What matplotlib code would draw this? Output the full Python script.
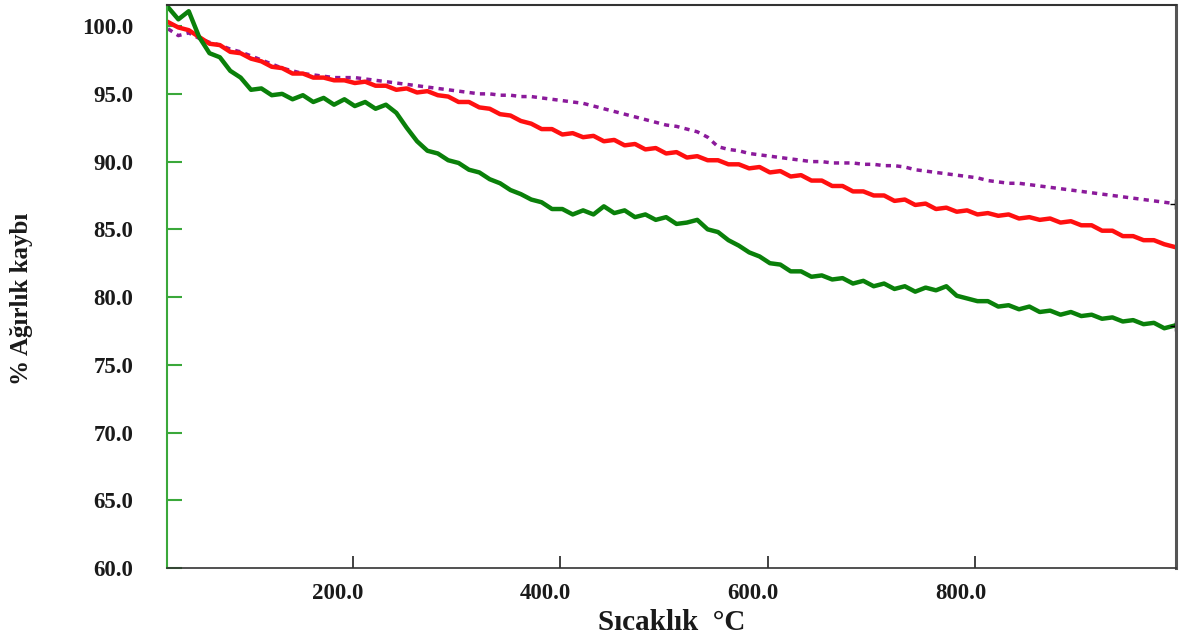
import matplotlib
matplotlib.use("Agg")
import matplotlib.pyplot as plt
import matplotlib.transforms as mtransforms
import numpy as np

# temperature grid (°C), sampled every 10 degrees
sicaklik = np.arange(22, 1000, 10)

# % weight remaining
yesil = [101.4, 100.5, 101.1, 99.2, 98.0, 97.7, 96.7, 96.2, 95.3, 95.4,
         94.9, 95.0, 94.6, 94.9, 94.4, 94.7, 94.2, 94.6, 94.1, 94.4,
         93.9, 94.2, 93.6, 92.5, 91.5, 90.8, 90.6, 90.1, 89.9, 89.4,
         89.2, 88.7, 88.4, 87.9, 87.6, 87.2, 87.0, 86.5, 86.5, 86.1,
         86.4, 86.1, 86.7, 86.2, 86.4, 85.9, 86.1, 85.7, 85.9, 85.4,
         85.5, 85.7, 85.0, 84.8, 84.2, 83.8, 83.3, 83.0, 82.5, 82.4,
         81.9, 81.9, 81.5, 81.6, 81.3, 81.4, 81.0, 81.2, 80.8, 81.0,
         80.6, 80.8, 80.4, 80.7, 80.5, 80.8, 80.1, 79.9, 79.7, 79.7,
         79.3, 79.4, 79.1, 79.3, 78.9, 79.0, 78.7, 78.9, 78.6, 78.7,
         78.4, 78.5, 78.2, 78.3, 78.0, 78.1, 77.7, 77.9]

kirmizi = [100.3, 99.9, 99.7, 99.2, 98.7, 98.6, 98.1, 98.0, 97.6, 97.4,
           97.0, 96.9, 96.5, 96.5, 96.2, 96.2, 96.0, 96.0, 95.8, 95.9,
           95.6, 95.6, 95.3, 95.4, 95.1, 95.2, 94.9, 94.8, 94.4, 94.4,
           94.0, 93.9, 93.5, 93.4, 93.0, 92.8, 92.4, 92.4, 92.0, 92.1,
           91.8, 91.9, 91.5, 91.6, 91.2, 91.3, 90.9, 91.0, 90.6, 90.7,
           90.3, 90.4, 90.1, 90.1, 89.8, 89.8, 89.5, 89.6, 89.2, 89.3,
           88.9, 89.0, 88.6, 88.6, 88.2, 88.2, 87.8, 87.8, 87.5, 87.5,
           87.1, 87.2, 86.8, 86.9, 86.5, 86.6, 86.3, 86.4, 86.1, 86.2,
           86.0, 86.1, 85.8, 85.9, 85.7, 85.8, 85.5, 85.6, 85.3, 85.3,
           84.9, 84.9, 84.5, 84.5, 84.2, 84.2, 83.9, 83.7]

mor = [99.8, 99.3, 99.5, 99.1, 98.8, 98.6, 98.3, 98.1, 97.8, 97.5,
       97.2, 96.9, 96.7, 96.5, 96.4, 96.3, 96.2, 96.2, 96.2, 96.1,
       96.0, 95.9, 95.8, 95.7, 95.6, 95.5, 95.4, 95.3, 95.2, 95.1,
       95.0, 95.0, 94.9, 94.9, 94.8, 94.8, 94.7, 94.6, 94.5, 94.4,
       94.3, 94.1, 93.9, 93.7, 93.5, 93.3, 93.1, 92.9, 92.7, 92.6,
       92.4, 92.2, 91.8, 91.1, 90.9, 90.8, 90.6, 90.5, 90.4, 90.3,
       90.2, 90.1, 90.0, 90.0, 89.9, 89.9, 89.9, 89.8, 89.8, 89.7,
       89.7, 89.6, 89.4, 89.3, 89.2, 89.1, 89.0, 88.9, 88.8, 88.6,
       88.5, 88.4, 88.4, 88.3, 88.2, 88.1, 88.0, 87.9, 87.8, 87.7,
       87.6, 87.5, 87.4, 87.3, 87.2, 87.1, 87.0, 86.9]

y_ticks = [60, 65, 70, 75, 80, 85, 90, 95, 100]
x_ticks = [200, 400, 600, 800]

plt.rcParams['font.family'] = ['Liberation Serif', 'DejaVu Serif']
plt.rcParams['font.weight'] = 'bold'

fig = plt.figure(figsize=(11.84, 6.39), dpi=100)
ax = fig.add_axes([0.141, 0.111, 0.852, 0.881])

ax.plot(sicaklik, mor, color='#8b1a9b', lw=2.5, linestyle=(0, (1.5, 1.5)))
ax.plot(sicaklik, kirmizi, color='#ff1010', lw=3.2)
ax.plot(sicaklik, yesil, color='#0a800a', lw=3.2)
ax.plot(sicaklik[-1], mor[-1], marker='+', color='black', ms=7, mew=1)
ax.plot(sicaklik[-1], yesil[-1], marker='+', color='black', ms=7, mew=1)

ax.set_xlim(21, 993)
ax.set_ylim(60, 101.55)
ax.set_xticks(x_ticks)
ax.set_xticklabels([f"{t:.1f}" for t in x_ticks])
ax.set_yticks(y_ticks)
ax.set_yticklabels([f"{t:.1f}" for t in y_ticks])

ax.tick_params(axis='y', direction='in', length=11, width=1.5, colors='#3aa83a',
               labelcolor='#1a1a1a', labelsize=16.5, pad=24)
ax.tick_params(axis='x', direction='in', length=9, width=1.2, colors='#222222',
               labelcolor='#1a1a1a', labelsize=16.5, pad=11)

# x tick labels sit a little left of their ticks in the original
shift = mtransforms.ScaledTranslation(-0.15, 0, fig.dpi_scale_trans)
for lab in ax.get_xticklabels():
    lab.set_transform(lab.get_transform() + shift)

ax.spines['left'].set_color('#3aa83a')
ax.spines['left'].set_linewidth(1.5)
ax.spines['bottom'].set_color('#333333')
ax.spines['bottom'].set_linewidth(1.2)
ax.spines['top'].set_color('#333333')
ax.spines['top'].set_linewidth(1.5)
ax.spines['right'].set_color('#555555')
ax.spines['right'].set_linewidth(2.2)

ax.set_xlabel("Sıcaklık  °C", fontsize=21, fontweight='bold', labelpad=3, color='#1a1a1a')
ax.set_ylabel("% Ağırlık kaybı", fontsize=18, fontweight='bold', color='#1a1a1a')
ax.yaxis.set_label_coords(-0.133, 0.478)

fig.savefig("out.png", dpi=100)
